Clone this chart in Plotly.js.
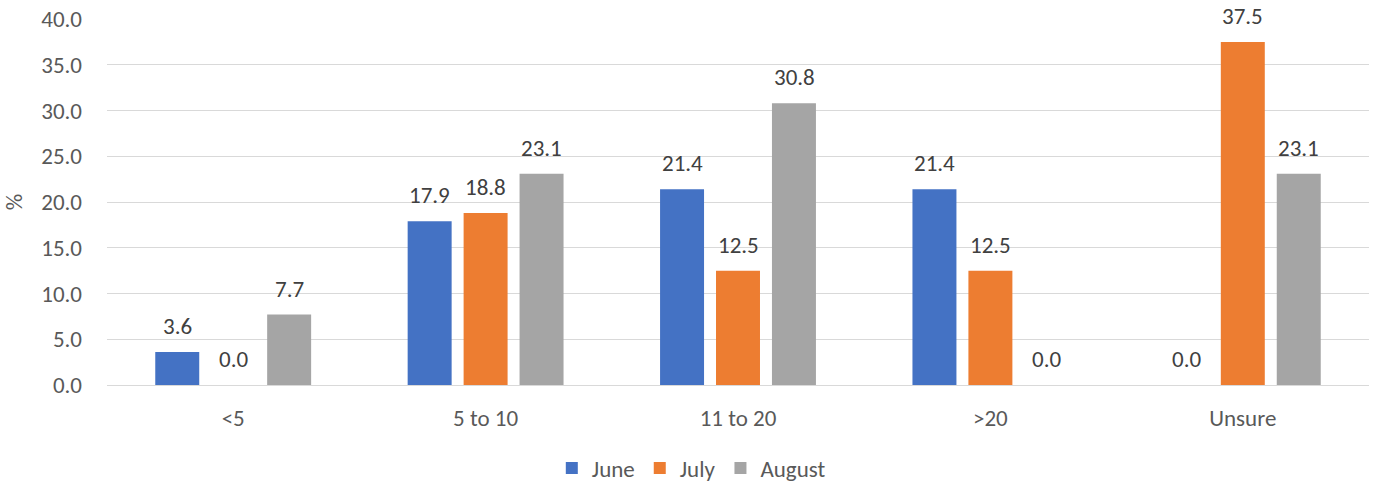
<!DOCTYPE html>
<html>
<head>
<meta charset="utf-8">
<script src="https://cdn.plot.ly/plotly-3.0.1.min.js"></script>
<style>
  html, body { margin: 0; padding: 0; background: #ffffff; }
  #chart { width: 1379px; height: 484px; }
</style>
</head>
<body>
<div id="chart"></div>
<script>
// Size groups (number of people) and share per month, in percent
const categories = ['<5', '5 to 10', '11 to 20', '>20', 'Unsure'];
const june   = [3.6, 17.9, 21.4, 21.4, 0.0];
const july   = [0.0, 18.8, 12.5, 12.5, 37.5];
const august = [7.7, 23.1, 30.8, 0.0, 23.1];
const seriesNames = ['June', 'July', 'August'];
const seriesColors = ['#4472C4', '#ED7D31', '#A5A5A5'];
const yTicks = [0, 5, 10, 15, 20, 25, 30, 35, 40];

const FONT = 'Carlito, "Open Sans", "Liberation Sans", sans-serif';
const FS = 23;

// pixel spacing between neighbouring bars inside one group
const BAR_PITCH = 56;

const seriesValues = [june, july, august];

const traces = seriesValues.map((vals, i) => ({
  type: 'bar',
  name: seriesNames[i],
  x: categories,
  y: vals,
  marker: { color: seriesColors[i] },
  hoverinfo: 'x+y'
}));

// value labels above each bar
const annotations = [];
seriesValues.forEach((vals, i) => {
  vals.forEach((v, j) => {
    annotations.push({
      x: categories[j],
      y: v,
      xref: 'x',
      yref: 'y',
      text: v.toFixed(1),
      showarrow: false,
      xanchor: 'center',
      yanchor: 'bottom',
      xshift: (i - 1) * BAR_PITCH,
      yshift: 10,
      font: { family: FONT, size: FS, color: '#404040' }
    });
  });
});

const layout = {
  width: 1379,
  height: 484,
  margin: { l: 107, r: 10, t: 19, b: 99, autoexpand: false },
  paper_bgcolor: '#ffffff',
  plot_bgcolor: '#ffffff',
  barmode: 'group',
  bargap: 0.335,
  bargroupgap: 0.214,
  font: { family: FONT, size: FS, color: '#595959' },
  annotations: annotations,
  xaxis: {
    type: 'category',
    showgrid: false,
    showline: true,
    linecolor: '#D9D9D9',
    linewidth: 1,
    ticks: '',
    automargin: false,
    tickfont: { family: FONT, size: FS, color: '#595959' },
    ticklabelstandoff: 12
  },
  yaxis: {
    range: [0, 40],
    tickvals: yTicks,
    ticktext: yTicks.map(v => v.toFixed(1)),
    showgrid: true,
    gridcolor: '#D9D9D9',
    gridwidth: 1,
    zeroline: false,
    showline: false,
    ticks: '',
    automargin: false,
    ticklabelstandoff: 24,
    tickfont: { family: FONT, size: FS, color: '#595959' },
    title: { text: '%', font: { family: FONT, size: FS, color: '#595959' }, standoff: 14 }
  },
  legend: {
    orientation: 'h',
    x: 0.463,
    xanchor: 'center',
    y: -0.227,
    yanchor: 'middle',
    font: { family: FONT, size: FS, color: '#595959' },
    itemwidth: 30,
    traceorder: 'normal'
  },
  showlegend: true
};

Plotly.newPlot('chart', traces, layout, { displayModeBar: false, staticPlot: true });
</script>
</body>
</html>
